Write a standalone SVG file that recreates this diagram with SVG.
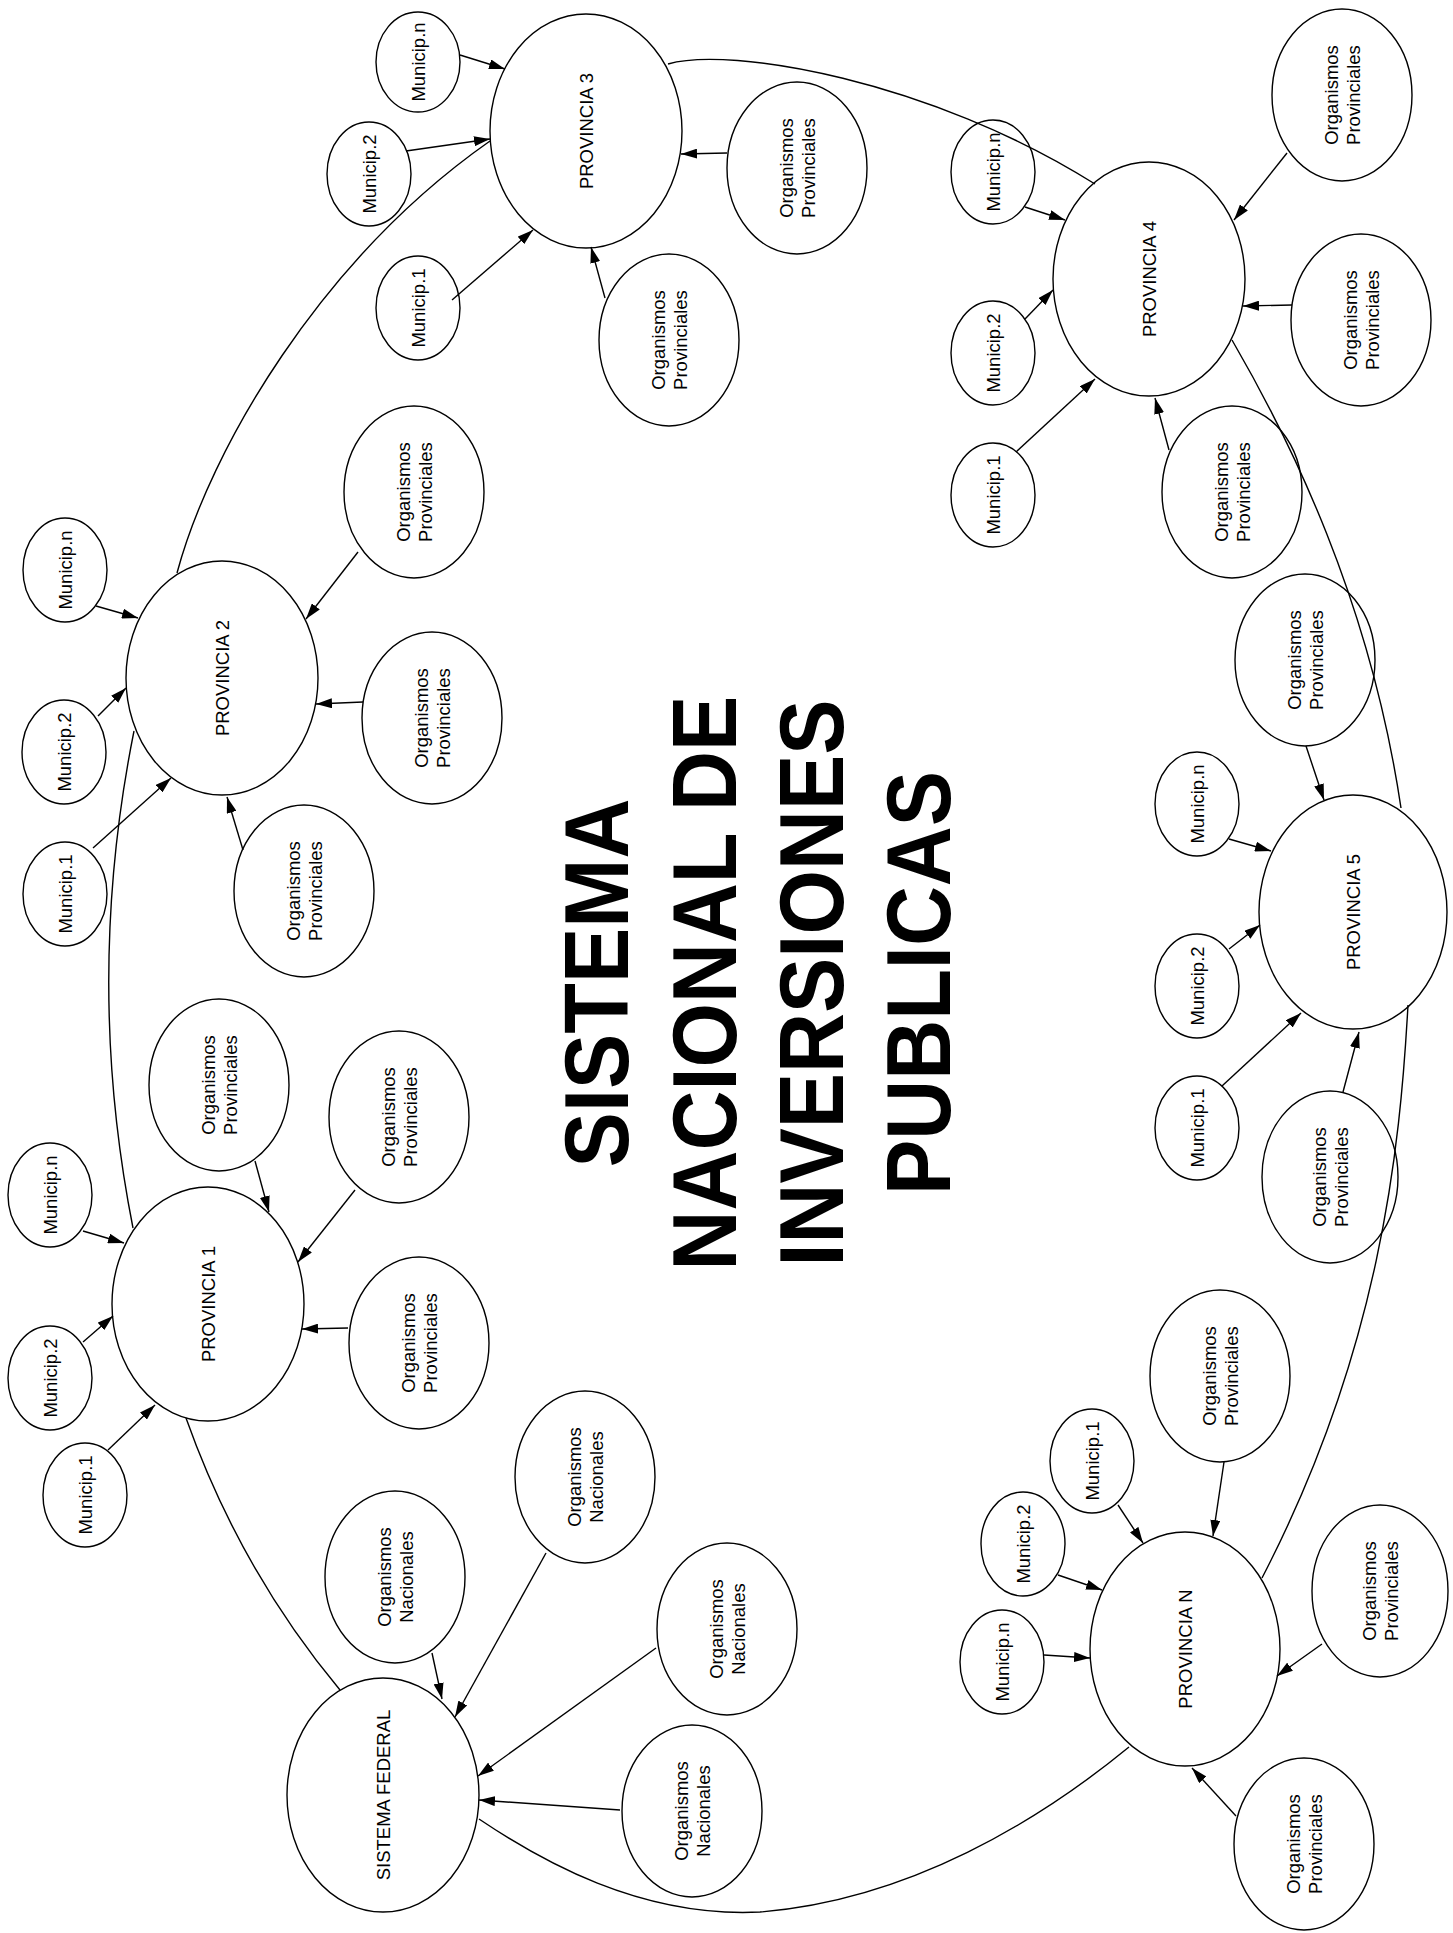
<svg xmlns="http://www.w3.org/2000/svg" width="1453" height="1933" viewBox="0 0 1453 1933">
<style>
.n{fill:#fff;stroke:#000;stroke-width:1.4}
.c{fill:none;stroke:#000;stroke-width:1.4}
.a{marker-end:url(#ah)}
.t{font-family:"Liberation Sans",Arial,sans-serif;font-size:18.5px;fill:#000;text-anchor:middle}
.ti{font-family:"Liberation Sans",Arial,sans-serif;font-size:83px;font-weight:bold;fill:#000;text-anchor:middle}
</style>
<defs>
<marker id="ah" markerUnits="userSpaceOnUse" markerWidth="17" markerHeight="10" refX="16" refY="5" orient="auto"><path d="M0,0 L16,5 L0,10 z" fill="#000"/></marker>
</defs>
<rect width="1453" height="1933" fill="#fff"/>

<g id="title">
<text class="ti" transform="translate(628,983) rotate(-90) scale(1,1.1)">SISTEMA</text>
<text class="ti" transform="translate(736,983) rotate(-90) scale(1,1.1)">NACIONAL DE</text>
<text class="ti" transform="translate(843,983) rotate(-90) scale(1,1.1)">INVERSIONES</text>
<text class="ti" transform="translate(950,983) rotate(-90) scale(1,1.1)">PUBLICAS</text>
</g>

<g id="nodes">
<g id="sf"><ellipse class="n" cx="383" cy="1795" rx="96" ry="117"/><text class="t" transform="translate(383,1795) rotate(-90)" y="6.6">SISTEMA FEDERAL</text></g>
<g id="p1"><ellipse class="n" cx="208" cy="1304" rx="96" ry="117"/><text class="t" transform="translate(208,1304) rotate(-90)" y="6.6">PROVINCIA 1</text></g>
<g id="p2"><ellipse class="n" cx="222" cy="678" rx="96" ry="117"/><text class="t" transform="translate(222,678) rotate(-90)" y="6.6">PROVINCIA 2</text></g>
<g id="p3"><ellipse class="n" cx="586" cy="131" rx="96" ry="117"/><text class="t" transform="translate(586,131) rotate(-90)" y="6.6">PROVINCIA 3</text></g>
<g id="p4"><ellipse class="n" cx="1149" cy="279" rx="96" ry="117"/><text class="t" transform="translate(1149,279) rotate(-90)" y="6.6">PROVINCIA 4</text></g>
<g id="p5"><ellipse class="n" cx="1353" cy="912" rx="94" ry="117"/><text class="t" transform="translate(1353,912) rotate(-90)" y="6.6">PROVINCIA 5</text></g>
<g id="pn"><ellipse class="n" cx="1185" cy="1649" rx="95" ry="117"/><text class="t" transform="translate(1185,1649) rotate(-90)" y="6.6">PROVINCIA N</text></g>

<g id="m-p3-n"><ellipse class="n" cx="418" cy="62" rx="42" ry="50"/><text class="t" transform="translate(418,62) rotate(-90)" y="6.6">Municip.n</text></g>
<g id="m-p3-2"><ellipse class="n" cx="369" cy="174" rx="42" ry="52"/><text class="t" transform="translate(369,174) rotate(-90)" y="6.6">Municip.2</text></g>
<g id="m-p3-1"><ellipse class="n" cx="418" cy="308" rx="42" ry="52"/><text class="t" transform="translate(418,308) rotate(-90)" y="6.6">Municip.1</text></g>
<g id="m-p4-n"><ellipse class="n" cx="993" cy="172" rx="42" ry="52"/><text class="t" transform="translate(993,172) rotate(-90)" y="6.6">Municip.n</text></g>
<g id="m-p4-2"><ellipse class="n" cx="993" cy="353" rx="42" ry="52"/><text class="t" transform="translate(993,353) rotate(-90)" y="6.6">Municip.2</text></g>
<g id="m-p4-1"><ellipse class="n" cx="993" cy="495" rx="42" ry="52"/><text class="t" transform="translate(993,495) rotate(-90)" y="6.6">Municip.1</text></g>
<g id="m-p5-n"><ellipse class="n" cx="1197" cy="804" rx="42" ry="52"/><text class="t" transform="translate(1197,804) rotate(-90)" y="6.6">Municip.n</text></g>
<g id="m-p5-2"><ellipse class="n" cx="1197" cy="986" rx="42" ry="52"/><text class="t" transform="translate(1197,986) rotate(-90)" y="6.6">Municip.2</text></g>
<g id="m-p5-1"><ellipse class="n" cx="1197" cy="1128" rx="42" ry="52"/><text class="t" transform="translate(1197,1128) rotate(-90)" y="6.6">Municip.1</text></g>
<g id="m-pn-n"><ellipse class="n" cx="1002" cy="1662" rx="42" ry="52"/><text class="t" transform="translate(1002,1662) rotate(-90)" y="6.6">Municip.n</text></g>
<g id="m-pn-2"><ellipse class="n" cx="1023" cy="1544" rx="42" ry="52"/><text class="t" transform="translate(1023,1544) rotate(-90)" y="6.6">Municip.2</text></g>
<g id="m-pn-1"><ellipse class="n" cx="1092" cy="1461" rx="42" ry="52"/><text class="t" transform="translate(1092,1461) rotate(-90)" y="6.6">Municip.1</text></g>
<g id="m-p1-n"><ellipse class="n" cx="50" cy="1195" rx="42" ry="52"/><text class="t" transform="translate(50,1195) rotate(-90)" y="6.6">Municip.n</text></g>
<g id="m-p1-2"><ellipse class="n" cx="50" cy="1378" rx="42" ry="52"/><text class="t" transform="translate(50,1378) rotate(-90)" y="6.6">Municip.2</text></g>
<g id="m-p1-1"><ellipse class="n" cx="85" cy="1495" rx="42" ry="52"/><text class="t" transform="translate(85,1495) rotate(-90)" y="6.6">Municip.1</text></g>
<g id="m-p2-n"><ellipse class="n" cx="65" cy="570" rx="42" ry="52"/><text class="t" transform="translate(65,570) rotate(-90)" y="6.6">Municip.n</text></g>
<g id="m-p2-2"><ellipse class="n" cx="64" cy="752" rx="42" ry="52"/><text class="t" transform="translate(64,752) rotate(-90)" y="6.6">Municip.2</text></g>
<g id="m-p2-1"><ellipse class="n" cx="65" cy="894" rx="42" ry="52"/><text class="t" transform="translate(65,894) rotate(-90)" y="6.6">Municip.1</text></g>

<g id="o-p3-a"><ellipse class="n" cx="669" cy="340" rx="70" ry="86"/><text class="t" transform="translate(669,340) rotate(-90)"><tspan x="0" y="-4.4">Organismos</tspan><tspan x="0" y="17.6">Provinciales</tspan></text></g>
<g id="o-p3-b"><ellipse class="n" cx="797" cy="168" rx="70" ry="86"/><text class="t" transform="translate(797,168) rotate(-90)"><tspan x="0" y="-4.4">Organismos</tspan><tspan x="0" y="17.6">Provinciales</tspan></text></g>
<g id="o-p2-a"><ellipse class="n" cx="414" cy="492" rx="70" ry="86"/><text class="t" transform="translate(414,492) rotate(-90)"><tspan x="0" y="-4.4">Organismos</tspan><tspan x="0" y="17.6">Provinciales</tspan></text></g>
<g id="o-p2-b"><ellipse class="n" cx="432" cy="718" rx="70" ry="86"/><text class="t" transform="translate(432,718) rotate(-90)"><tspan x="0" y="-4.4">Organismos</tspan><tspan x="0" y="17.6">Provinciales</tspan></text></g>
<g id="o-p2-c"><ellipse class="n" cx="304" cy="891" rx="70" ry="86"/><text class="t" transform="translate(304,891) rotate(-90)"><tspan x="0" y="-4.4">Organismos</tspan><tspan x="0" y="17.6">Provinciales</tspan></text></g>
<g id="o-p1-a"><ellipse class="n" cx="219" cy="1085" rx="70" ry="86"/><text class="t" transform="translate(219,1085) rotate(-90)"><tspan x="0" y="-4.4">Organismos</tspan><tspan x="0" y="17.6">Provinciales</tspan></text></g>
<g id="o-p1-b"><ellipse class="n" cx="399" cy="1117" rx="70" ry="86"/><text class="t" transform="translate(399,1117) rotate(-90)"><tspan x="0" y="-4.4">Organismos</tspan><tspan x="0" y="17.6">Provinciales</tspan></text></g>
<g id="o-p1-c"><ellipse class="n" cx="419" cy="1343" rx="70" ry="86"/><text class="t" transform="translate(419,1343) rotate(-90)"><tspan x="0" y="-4.4">Organismos</tspan><tspan x="0" y="17.6">Provinciales</tspan></text></g>
<g id="o-p4-a"><ellipse class="n" cx="1342" cy="95" rx="70" ry="86"/><text class="t" transform="translate(1342,95) rotate(-90)"><tspan x="0" y="-4.4">Organismos</tspan><tspan x="0" y="17.6">Provinciales</tspan></text></g>
<g id="o-p4-b"><ellipse class="n" cx="1361" cy="320" rx="70" ry="86"/><text class="t" transform="translate(1361,320) rotate(-90)"><tspan x="0" y="-4.4">Organismos</tspan><tspan x="0" y="17.6">Provinciales</tspan></text></g>
<g id="o-p4-c"><ellipse class="n" cx="1232" cy="492" rx="70" ry="86"/><text class="t" transform="translate(1232,492) rotate(-90)"><tspan x="0" y="-4.4">Organismos</tspan><tspan x="0" y="17.6">Provinciales</tspan></text></g>
<g id="o-p5-a"><ellipse class="n" cx="1305" cy="660" rx="70" ry="86"/><text class="t" transform="translate(1305,660) rotate(-90)"><tspan x="0" y="-4.4">Organismos</tspan><tspan x="0" y="17.6">Provinciales</tspan></text></g>
<g id="o-p5-b"><ellipse class="n" cx="1330" cy="1177" rx="68" ry="86"/><text class="t" transform="translate(1330,1177) rotate(-90)"><tspan x="0" y="-4.4">Organismos</tspan><tspan x="0" y="17.6">Provinciales</tspan></text></g>
<g id="o-pn-a"><ellipse class="n" cx="1220" cy="1376" rx="70" ry="86"/><text class="t" transform="translate(1220,1376) rotate(-90)"><tspan x="0" y="-4.4">Organismos</tspan><tspan x="0" y="17.6">Provinciales</tspan></text></g>
<g id="o-pn-b"><ellipse class="n" cx="1380" cy="1591" rx="68" ry="86"/><text class="t" transform="translate(1380,1591) rotate(-90)"><tspan x="0" y="-4.4">Organismos</tspan><tspan x="0" y="17.6">Provinciales</tspan></text></g>
<g id="o-pn-c"><ellipse class="n" cx="1304" cy="1844" rx="70" ry="86"/><text class="t" transform="translate(1304,1844) rotate(-90)"><tspan x="0" y="-4.4">Organismos</tspan><tspan x="0" y="17.6">Provinciales</tspan></text></g>
<g id="o-sf-a"><ellipse class="n" cx="395" cy="1577" rx="70" ry="86"/><text class="t" transform="translate(395,1577) rotate(-90)"><tspan x="0" y="-4.4">Organismos</tspan><tspan x="0" y="17.6">Nacionales</tspan></text></g>
<g id="o-sf-b"><ellipse class="n" cx="585" cy="1477" rx="70" ry="86"/><text class="t" transform="translate(585,1477) rotate(-90)"><tspan x="0" y="-4.4">Organismos</tspan><tspan x="0" y="17.6">Nacionales</tspan></text></g>
<g id="o-sf-c"><ellipse class="n" cx="727" cy="1629" rx="70" ry="86"/><text class="t" transform="translate(727,1629) rotate(-90)"><tspan x="0" y="-4.4">Organismos</tspan><tspan x="0" y="17.6">Nacionales</tspan></text></g>
<g id="o-sf-d"><ellipse class="n" cx="692" cy="1811" rx="70" ry="86"/><text class="t" transform="translate(692,1811) rotate(-90)"><tspan x="0" y="-4.4">Organismos</tspan><tspan x="0" y="17.6">Nacionales</tspan></text></g>
</g>

<g id="connectors">
<path class="c" d="M186,1418 Q240,1570 340,1690"/>
<path class="c" d="M133,1228 Q84,980 134,731"/>
<path class="c" d="M177,573 C210,450 320,260 490,141"/>
<path class="c" d="M668,64 C730,46 930,80 1095,184"/>
<path class="c" d="M1232,340 C1290,440 1370,600 1401,808"/>
<path class="c" d="M1408,1005 C1400,1150 1380,1350 1262,1578"/>
<path class="c" d="M1129,1747 C1040,1820 910,1900 760,1912 C640,1918 540,1860 479,1819"/>

<line class="c a" x1="460" y1="55" x2="505" y2="69"/>
<line class="c a" x1="406" y1="151" x2="490" y2="139"/>
<line class="c a" x1="452" y1="300" x2="533" y2="230"/>
<line class="c a" x1="605" y1="298" x2="591" y2="247"/>
<line class="c a" x1="727" y1="153" x2="681" y2="154"/>

<line class="c a" x1="1025" y1="207" x2="1065" y2="220"/>
<line class="c a" x1="1025" y1="319" x2="1053" y2="290"/>
<line class="c a" x1="1016" y1="452" x2="1095" y2="379"/>
<line class="c a" x1="1169" y1="450" x2="1155" y2="398"/>
<line class="c a" x1="1292" y1="305" x2="1243" y2="306"/>
<line class="c a" x1="1287" y1="153" x2="1234" y2="220"/>

<line class="c a" x1="1306" y1="746" x2="1324" y2="800"/>
<line class="c a" x1="1229" y1="839" x2="1271" y2="851"/>
<line class="c a" x1="1229" y1="949" x2="1260" y2="925"/>
<line class="c a" x1="1222" y1="1086" x2="1301" y2="1013"/>
<line class="c a" x1="1343" y1="1092" x2="1359" y2="1032"/>

<line class="c a" x1="1044" y1="1655" x2="1090" y2="1658"/>
<line class="c a" x1="1058" y1="1575" x2="1102" y2="1590"/>
<line class="c a" x1="1118" y1="1505" x2="1143" y2="1543"/>
<line class="c a" x1="1224" y1="1462" x2="1213" y2="1536"/>
<line class="c a" x1="1322" y1="1644" x2="1277" y2="1676"/>
<line class="c a" x1="1236" y1="1816" x2="1192" y2="1768"/>

<line class="c a" x1="432" y1="1653" x2="442" y2="1699"/>
<line class="c a" x1="546" y1="1553" x2="455" y2="1717"/>
<line class="c a" x1="656" y1="1648" x2="478" y2="1776"/>
<line class="c a" x1="620" y1="1810" x2="479" y2="1800"/>

<line class="c a" x1="83" y1="1231" x2="124" y2="1243"/>
<line class="c a" x1="83" y1="1342" x2="113" y2="1316"/>
<line class="c a" x1="108" y1="1450" x2="155" y2="1405"/>
<line class="c a" x1="255" y1="1161" x2="269" y2="1212"/>
<line class="c a" x1="355" y1="1190" x2="298" y2="1262"/>
<line class="c a" x1="348" y1="1328" x2="302" y2="1329"/>

<line class="c a" x1="96" y1="606" x2="138" y2="618"/>
<line class="c a" x1="98" y1="716" x2="126" y2="688"/>
<line class="c a" x1="93" y1="848" x2="171" y2="778"/>
<line class="c a" x1="243" y1="850" x2="227" y2="797"/>
<line class="c a" x1="363" y1="702" x2="316" y2="704"/>
<line class="c a" x1="358" y1="552" x2="306" y2="619"/>
</g>
</svg>
